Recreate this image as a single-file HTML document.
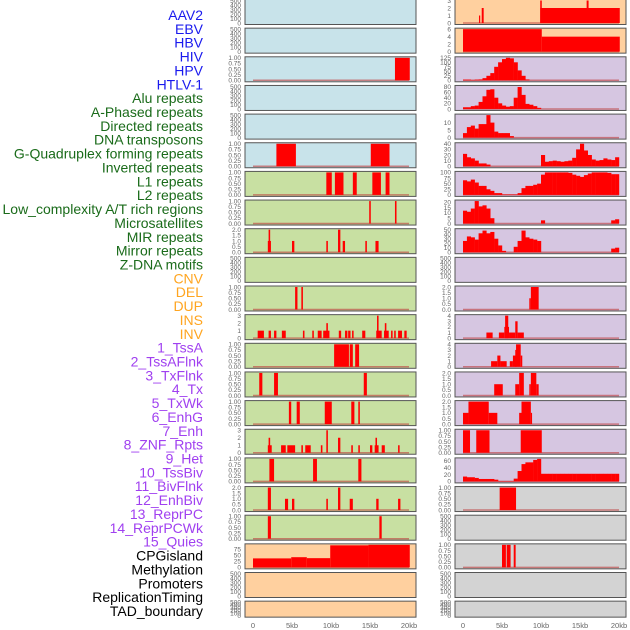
<!DOCTYPE html>
<html><head><meta charset="utf-8"><style>
html,body{margin:0;padding:0;background:#fff;width:630px;height:630px;overflow:hidden}
svg{display:block;font-family:"Liberation Sans",sans-serif}
</style></head><body>
<svg id="chart" width="630" height="630" viewBox="0 0 630 630"></svg>
<script>
// ---- labels ----
const trackLabels = ["AAV2","EBV","HBV","HIV","HPV","HTLV-1","Alu repeats","A-Phased repeats","Directed repeats","DNA transposons","G-Quadruplex forming repeats","Inverted repeats","L1 repeats","L2 repeats","Low_complexity A/T rich regions","Microsatellites","MIR repeats","Mirror repeats","Z-DNA motifs","CNV","DEL","DUP","INS","INV","1_TssA","2_TssAFlnk","3_TxFlnk","4_Tx","5_TxWk","6_EnhG","7_Enh","8_ZNF_Rpts","9_Het","10_TssBiv","11_BivFlnk","12_EnhBiv","13_ReprPC","14_ReprPCWk","15_Quies","CPGisland","Methylation","Promoters","ReplicationTiming","TAD_boundary"];
const labelGroups = ["virus","virus","virus","virus","virus","virus","rep","rep","rep","rep","rep","rep","rep","rep","rep","rep","rep","rep","rep","sv","sv","sv","sv","sv","chrom","chrom","chrom","chrom","chrom","chrom","chrom","chrom","chrom","chrom","chrom","chrom","chrom","chrom","chrom","other","other","other","other","other"];
const xTickLabels = ["0","5kb","10kb","15kb","20kb"];
const xTickValues = [0,5,10,15,20];
// ---- backgrounds per row ----
const leftBg = ["b","b","b","b","b","b","g","g","g","g","g","g","g","g","g","g","g","g","g","o","o","o"];
const rightBg = ["o","o","l","l","l","l","l","l","l","l","l","l","l","l","l","l","l","y","y","y","y","y"];
// ---- y axes per row ----
const T500 = ["0","100","200","300","400","500"];
const T1 = ["0.00","0.25","0.50","0.75","1.00"];
const T2 = ["0.0","0.5","1.0","1.5","2.0"];
const leftMax = [500,500,1,500,500,1,1,1,2,500,1,3,1,1,1,3,1,2,1,93,500,500];
const leftTicks = [T500,T500,T1,T500,T500,T1,T1,T1,T2,T500,T1,["0","1","2","3"],T1,T1,T1,["0","1","2","3"],T1,T2,T1,["0","25","50","75"],T500,T500];
const rightMax = [3,6,125,80,15,40,100,21,50,500,2,4,4,2,2,1,65,1,500,1,500,500];
const rightTicks = [["0","1","2","3"],["0","2","4","6"],["0","25","50","75","100","125"],["0","20","40","60","80"],["0","5","10"],["0","10","20","30","40"],["0","25","50","75","100"],["0","5","10","15","20"],["0","10","20","30","40","50"],T500,T2,["0","1","2","3","4"],["0","1","2","3","4"],T2,T2,T1,["0","20","40","60"],T1,T500,T1,T500,T500];
// ---- left series: segments [startKb, endKb, value] ----
const leftSeg = [
 [],[],
 [[18.2,20.1,1]],
 [],[],
 [[3.0,5.5,1],[15.1,17.5,1]],
 [[9.4,10.1,1],[10.5,11.6,1],[12.8,13.3,1],[15.3,16.4,1],[17.0,17.5,1]],
 [[14.9,15.1,1],[18.2,18.4,1]],
 [[1.9,2.3,1],[2.0,2.2,2],[5.0,5.3,1],[9.4,9.6,1],[10.9,11.2,2],[11.5,11.8,1],[14.4,14.6,1],[15.7,16.1,1]],
 [],
 [[5.4,5.7,1],[6.2,6.4,1]],
 [[0.6,1.4,1],[2.0,2.3,1],[2.7,3.0,1],[3.7,4.2,1],[6.4,6.6,1],[7.6,7.8,1],[8.3,8.8,1],[9.0,9.8,1],[9.4,9.6,2],[11.0,11.3,1],[11.8,12.1,1],[12.2,12.5,1],[12.7,12.9,1],[14.0,14.4,1],[15.8,16.5,1],[15.9,16.1,3],[16.8,17.4,1],[16.9,17.1,2],[17.7,17.9,1],[18.1,18.3,1],[18.6,19.1,1],[19.4,19.7,1]],
 [[10.4,12.3,1],[12.4,12.8,1],[13.1,13.6,1]],
 [[0.8,1.2,1],[2.7,3.2,1],[14.2,14.6,1]],
 [[4.6,4.9,1],[5.6,6.0,1],[9.2,10.1,1],[12.6,13.0,1],[13.5,13.7,1]],
 [[1.9,2.4,1],[2.0,2.2,2],[3.6,4.2,1],[4.4,5.4,1],[6.2,6.4,1],[6.7,7.4,1],[8.7,8.9,1],[9.4,9.6,3],[10.9,11.2,2],[12.6,12.8,1],[13.5,13.7,1],[15.0,15.3,1],[15.6,16.1,1],[15.7,15.9,2],[16.5,16.9,1],[18.6,18.8,1]],
 [[2.1,2.7,1],[7.7,8.2,1],[13.5,13.9,1]],
 [[1.9,2.3,2],[4.1,4.5,1],[5.0,5.3,1],[9.4,9.6,1],[10.9,11.2,2],[12.4,12.8,1],[15.8,16.1,1],[18.6,18.9,1]],
 [[1.9,2.3,1],[16.2,16.5,1]],
 [[0,4.9,37],[4.9,6.9,42],[6.9,9.9,38],[9.9,14.8,91],[14.8,20.1,93]],
 [],[]
];
// ---- right series: segments ----
const rightSeg = [
 [[2.05,2.2,1],[2.4,2.65,2],[9.9,20.1,2],[9.9,10.1,3],[15.85,16.1,3]],
 [[0,10.1,6],[10.1,20.1,4]],
 [],[],[],[],[],[],[],[],
 [[8.5,8.7,1],[8.7,9.7,2]],
 [[3.0,3.8,1],[4.6,5.3,1],[5.3,5.9,2],[5.4,5.8,4],[5.9,6.7,1],[6.7,7.0,3],[7.0,7.8,1]],
 [[3.6,4.4,1],[4.4,4.8,2],[4.8,5.6,1],[6.0,6.4,1],[6.4,6.8,2],[6.7,6.8,3],[6.8,7.4,4],[7.4,7.6,2]],
 [[4.0,5.1,1],[6.7,7.2,1],[7.2,7.8,2],[8.5,8.7,1],[8.7,9.4,2],[9.4,9.7,1]],
 [[0,0.7,1],[0.7,3.3,2],[3.3,4.4,1],[7.2,7.5,1],[7.5,8.7,2],[8.7,8.8,1]],
 [[0,0.9,1],[1.7,3.4,1],[7.4,10.1,1]],
 [],
 [[4.7,6.8,1]],
 [],
 [[5.0,5.5,1],[5.6,6.1,1],[6.5,6.75,1]],
 [],[]
];
// ---- right histograms: 0.5kb bins (40 bins, 0-20kb) ----
const hivBins = [4,4,2,4,5,12,25,40,75,100,118,125,122,100,55,25,5];
const aluBins = [6,6,10,12,25,45,68,70,40,20,12,8,10,40,78,50,18,15,10,4];
const dirBins = [3,7,8,6,9,9,15,10,4,3,3,3,1];
const g4Bins = [22,16,14,10,5,5,3,0,0,0,0,0,0,0,0,0,0,0,0,0,20,8,9,10,9,8,9,10,15,30,40,28,20,12,10,11,14,12,11,16];
const l1Bins = [65,60,68,55,40,40,25,18,8,8,2,2,2,2,8,30,40,40,45,50,90,100,100,100,100,100,100,98,90,85,80,88,95,100,100,100,100,98,92,92];
const l2Bins = [12,11,14,21,16,17,14,5,0,0,0,0,0,0,0,0,0,0,0,0,3,0,0,0,0,0,0,0,0,0,0,0,0,0,0,0,0,0,3,4];
const mirBins = [25,35,33,28,42,48,42,45,30,15,3,0,0,12,25,48,33,30,28,25,0,0,0,0,0,0,0,0,0,0,0,0,0,0,0,0,0,0,8,10];
const tssBivBins = [14,12,12,10,7,7,7,7,5,1,1,1,1,8,30,50,55,55,62,65,22,22,22,22,22,22,22,22,22,22,22,22,22,22,22,22,22,22,22,22];
const rightBins = {2:hivBins,3:aluBins,4:dirBins,5:g4Bins,6:l1Bins,7:l2Bins,8:mirBins,16:tssBivBins};

const NS="http://www.w3.org/2000/svg";
const svg=document.getElementById('chart');
function mk(tag,attrs,parent){const e=document.createElementNS(NS,tag);for(const k in attrs)e.setAttribute(k,attrs[k]);(parent||svg).appendChild(e);return e;}
const bgCol={b:"#c8e3ea",g:"#c8e0a2",o:"#ffd09f",l:"#d6c6e1",y:"#d3d3d3"};
const groupCol={virus:"#1a1aee",rep:"#1a6b1a",sv:"#ffa520",chrom:"#a040f0",other:"#000000"};
const PX=7.8;
function rowTop(i){return i*28.65-0.5;}
function rowH(i){return i===21?16:25;}
function xKb(side,kb){return (side===0?253:463)+kb*PX;}
function yVal(i,max,v){const b=rowTop(i)+rowH(i)-1.5;return b-(v/max)*(rowH(i)-2.5);}

// labels
trackLabels.forEach((t,k)=>{
  const e=mk('text',{x:203,y:20+k*13.86,'text-anchor':'end','font-size':14,fill:groupCol[labelGroups[k]]});
  e.textContent=t;
  
  
});

function panel(side,i){
  const g=mk('g',{});
  
  
  const x0=side===0?245:455, w=171, top=rowTop(i), h=rowH(i);
  const bg=side===0?leftBg[i]:rightBg[i];
  mk('rect',{x:x0,y:top,width:w,height:h,fill:bgCol[bg]},g);
  const max=side===0?leftMax[i]:rightMax[i];
  const ticks=side===0?leftTicks[i]:rightTicks[i];
  const segs=side===0?leftSeg[i]:rightSeg[i];
  const bins=side===1?rightBins[i]:null;
  const hasData=(segs&&segs.length)||bins;
  if(hasData){
    mk('line',{x1:xKb(side,0),x2:xKb(side,20),y1:yVal(i,max,0),y2:yVal(i,max,0),stroke:"rgba(190,60,60,0.6)","stroke-width":1.5},g);
  }
  if(bins){
    bins.forEach((v,b)=>{
      if(v<=0)return;
      const r=mk('rect',{x:xKb(side,b*0.5),y:yVal(i,max,v),width:0.5*PX+0.2,height:yVal(i,max,0)-yVal(i,max,v),fill:"#ff0000"},g);
      
      
    });
  }
  (segs||[]).forEach(s=>{
    const r=mk('rect',{x:xKb(side,s[0]),y:Math.max(top,yVal(i,max,s[2])),width:Math.max(1.2,(s[1]-s[0])*PX),height:yVal(i,max,0)-Math.max(top,yVal(i,max,s[2])),fill:"#ff0000"},g);
    
    
  });
  mk('rect',{x:x0,y:top,width:w,height:h,fill:"none",stroke:"#555","stroke-width":1},g);
  // y ticks
  const n=ticks.length;
  ticks.forEach((t,k)=>{
    const v=max*(k/(n-1))*( (n-1)/(n-1) );
    const tv=parseFloat(t);
    const yy=yVal(i,max,tv);
    const e=mk('text',{x:x0-4,y:yy+2.3,'text-anchor':'end','font-size':6.5,fill:"#666"},g);
    e.textContent=t;
  });
}
for(let i=0;i<22;i++){panel(0,i);panel(1,i);}
// x ticks
[0,1].forEach(side=>{
  xTickValues.forEach((v,k)=>{
    const e=mk('text',{x:xKb(side,v),y:628,'text-anchor':'middle','font-size':7.5,fill:"#666"});
    e.textContent=xTickLabels[k];
    
    
  });
});
</script>
</body></html>
